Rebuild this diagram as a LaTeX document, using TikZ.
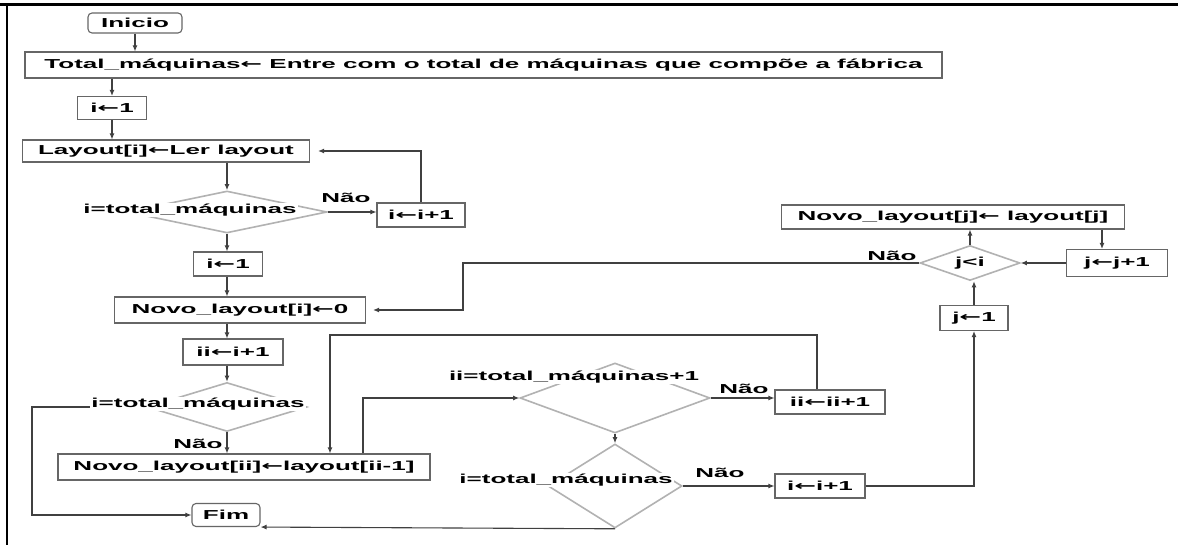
\documentclass[tikz,border=0pt]{standalone}
\usepackage{fontspec}
\setmainfont{Liberation Sans}[FakeStretch=2.0]
\newfontfamily\arrowfont{DejaVu Sans}[FakeStretch=2.0]
\newcommand\la{{\arrowfont ←}}
\usetikzlibrary{shapes.geometric,arrows.meta,calc}

\tikzset{
  lbl/.style={font=\fontsize{13}{15}\selectfont\bfseries, inner sep=1pt},
  box/.style={lbl, draw=black!60, line width=1.1pt, inner sep=0pt},
  rbox/.style={box, rounded corners=4pt},
  dia/.style={diamond, draw=black!30, line width=1.6pt, inner sep=0pt},
  tag/.style={lbl, fill=white, inner sep=1pt},
  arr/.style={draw=black!75, line width=1.1pt, -{Latex[length=6pt,width=5pt]}},
}

\begin{document}
\begin{tikzpicture}[x=1pt,y=-1pt]
\useasboundingbox[fill=white] (0,0) rectangle (1178,545);

% frame of the page
\draw[line width=3pt] (0,5) -- (1178,5);
\draw[line width=2.5pt] (7,5) -- (7,545);

% process boxes
\node[rbox, minimum width=94pt,  minimum height=20pt] (ini)  at (135,23)  {Inicio};
\node[box,  minimum width=917pt, minimum height=26pt] (tot)  at (483.5,65)  {Total\_máquinas\la{} Entre com o total de máquinas que compõe a fábrica};
\node[box,  minimum width=69pt,  minimum height=23pt] (i1)   at (112,108) {i\la1};
\node[box,  minimum width=287pt, minimum height=22pt] (lay)  at (166,151) {Layout[i]\la Ler layout};
\node[box,  minimum width=88pt,  minimum height=24pt] (inc1) at (421,215) {i\la i+1};
\node[box,  minimum width=69pt,  minimum height=24pt] (i2)   at (228,264) {i\la1};
\node[box,  minimum width=251pt, minimum height=26pt] (nl0)  at (240,310) {Novo\_layout[i]\la0};
\node[box,  minimum width=100pt, minimum height=26pt] (ii)   at (233,352) {ii\la i+1};
\node[box,  minimum width=372pt, minimum height=26pt] (nlii) at (244,467) {Novo\_layout[ii]\la layout[ii-1]};
\node[rbox, minimum width=68pt,  minimum height=23pt] (fim)  at (226,515) {Fim};
\node[box,  minimum width=110pt, minimum height=24pt] (iib)  at (830,402) {ii\la ii+1};
\node[box,  minimum width=90pt,  minimum height=24pt] (inc4) at (820,486) {i\la i+1};
\node[box,  minimum width=68pt,  minimum height=25pt] (j1)   at (974,318) {j\la1};
\node[box,  minimum width=343pt, minimum height=24pt] (nj)   at (953,217) {Novo\_layout[j]\la{} layout[j]};
\node[box,  minimum width=101pt, minimum height=27pt] (jj)   at (1117,263) {j\la j+1};

% decisions
\node[dia, minimum width=200pt, minimum height=42pt] (d1) at (227,212) {};
\node[dia, minimum width=160pt, minimum height=49pt] (d2) at (227,407) {};
\node[dia, minimum width=190pt, minimum height=70pt] (d3) at (615,398) {};
\node[dia, minimum width=134pt, minimum height=84pt] (d4) at (615,486) {};
\node[dia, minimum width=100pt, minimum height=35pt] (d5) at (970,263) {};

% bend points
\coordinate (lx) at (32,407);
\coordinate (lp) at (330,335);
\coordinate (rx) at (463,263);

% connectors
\draw[arr] (ini.south) -- (ini.south |- tot.north);
\draw[arr] (i1.north |- tot.south) -- (i1.north);
\draw[arr] (i1.south) -- (i1.south |- lay.north);
\draw[arr] (d1.north |- lay.south) -- (d1.north);
\draw[arr] (d1.east) -- (d1.east -| inc1.west);
\draw[arr] (inc1.north) |- ([xshift=8pt]lay.east);
\draw[arr] (d1.south) -- (d1.south |- i2.north);
\draw[arr] (d1.south |- i2.south) -- (d1.south |- nl0.north);
\draw[arr] (d1.south |- nl0.south) -- (d1.south |- ii.north);
\draw[arr] (d2.north |- ii.south) -- (d2.north);
\draw[arr] (d2.west) -| (lx |- fim.west) -- (fim.west);
\draw[arr] (d2.south) -- (d2.south |- nlii.north);
\draw[arr] ([xshift=119pt]nlii.north) |- (d3.west);
\draw[arr] ([xshift=-13pt]iib.north) |- (lp) -- (lp |- nlii.north);
\draw[arr] (d3.east) -- (d3.east -| iib.west);
\draw[arr] (d3.south) -- (d4.north);
\draw[arr] (d4.east) -- (d4.east -| inc4.west);
\draw[arr] (d4.south) -- (fim.south east);
\draw[arr] (inc4.east) -| (j1.south);
\draw[arr] (j1.north) -- (j1.north |- d5.south);
\draw[arr] (d5.north) -- (d5.north |- nj.south);
\draw[arr] ([xshift=149pt]nj.south) -- ([xshift=149pt]nj.south |- jj.north);
\draw[arr] (jj.west) -- (d5.east);
\draw[arr] (d5.west) -| (rx |- nl0.east) -- ([xshift=7pt]nl0.east);

% decision texts
\node[tag] (t1) at (190,210) {i=total\_máquinas};
\node[tag] (t2) at (198,404) {i=total\_máquinas};
\node[tag] (t3) at (574,377) {ii=total\_máquinas+1};
\node[tag] (t4) at (566,480) {i=total\_máquinas};
\node[lbl] (t5) at (970,263) {j<i};

% branch labels
\node[tag] (n1) at (346,198) {Não};
\node[tag] (n2) at (198,444) {Não};
\node[tag] (n3) at (744,389) {Não};
\node[tag] (n4) at (720,473) {Não};
\node[tag] (n5) at (892,256) {Não};
\end{tikzpicture}
\end{document}
